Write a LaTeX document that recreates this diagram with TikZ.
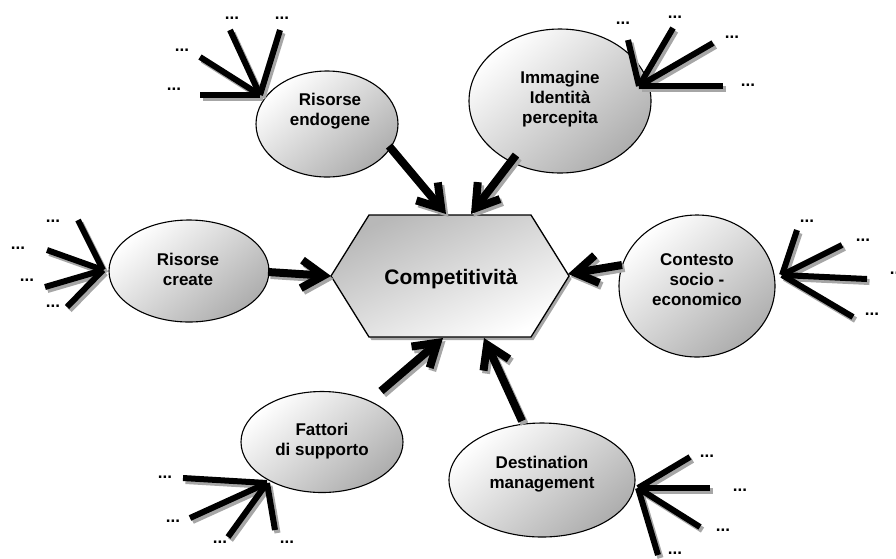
\documentclass[tikz,border=0pt]{standalone}
\usepackage{fontspec}
\setmainfont{Liberation Sans}
\usetikzlibrary{arrows.meta,shapes.geometric}

\begin{document}
\begin{tikzpicture}[x=1pt,y=-1pt,
  bubble/.style={ellipse, draw=black, line width=1.1pt, inner sep=0pt,
    top color=white, bottom color=black!32, shading angle=40},
  caption/.style={font=\fontsize{17}{20}\selectfont\bfseries, align=center, inner sep=0pt},
  more/.style={font=\fontsize{17}{20}\selectfont\bfseries, inner sep=0pt},
  feed/.style={line width=6pt},
  push/.style={line width=8pt, -{Straight Barb[length=22pt,width=28pt]}},
  shadowcopy/.style={draw=black!35, transform canvas={shift={(2.5pt,-3pt)}}},
]
\useasboundingbox (0,0) rectangle (896,558);

% central hexagon with its drop shadow
\fill[black!35] (333.5,279) -- (371.5,218) -- (533.5,218) -- (571.5,279)
  -- (533.5,340) -- (371.5,340) -- cycle;
\draw[line width=1.3pt, top color=black!28, bottom color=white, shading angle=25]
  (331,276) -- (369,215) -- (531,215) -- (569,276) -- (531,337) -- (369,337) -- cycle;
\node[inner sep=0pt, font=\fontsize{21}{25}\selectfont\bfseries] (hex) at (451,279) {Competitività};

% surrounding factors
\node[bubble, minimum width=142pt, minimum height=106pt] (e1) at (327,124) {};
\node[bubble, minimum width=182pt, minimum height=144pt] (e2) at (560,101) {};
\node[bubble, minimum width=160pt, minimum height=102pt] (e3) at (189,271) {};
\node[bubble, minimum width=156pt, minimum height=142pt] (e4) at (697,286) {};
\node[bubble, minimum width=162pt, minimum height=101pt] (e5) at (322,442) {};
\node[bubble, minimum width=186pt, minimum height=114pt] (e6) at (542,480) {};

\node[caption] (l1) at (330,111) {Risorse\\endogene};
\node[caption] (l2) at (560,99) {Immagine\\Identità\\percepita};
\node[caption] (l3) at (188,269) {Risorse\\create};
\node[caption] (l4) at (697,280) {Contesto\\socio -\\economico};
\node[caption] (l5) at (322,441) {Fattori\\di supporto};
\node[caption] (l6) at (542,474) {Destination\\management};

% arrow start points on the bubbles and tips on the hexagon
\coordinate (s1) at (389,146);  \coordinate (t1) at (446,214);
\coordinate (s2) at (516,155);  \coordinate (t2) at (471,214);
\coordinate (s3) at (268,272);  \coordinate (t3) at (331,276);
\coordinate (s4) at (622,265);  \coordinate (t4) at (568,274);
\coordinate (s5) at (381,391);  \coordinate (t5) at (443,338);
\coordinate (s6) at (522,421);  \coordinate (t6) at (484,338);

% convergence points of the secondary lines
\coordinate (c1) at (260,95);
\coordinate (c2) at (639,86);
\coordinate (c3) at (103,270);
\coordinate (c4) at (782,275);
\coordinate (c5) at (267,483);
\coordinate (c6) at (638,488);

% outer ends of the secondary lines
\coordinate (c1a) at (230,30);  \coordinate (c1b) at (280,30);
\coordinate (c1c) at (200,57);  \coordinate (c1d) at (200,95);
\coordinate (c2a) at (628,40);  \coordinate (c2b) at (673,28);
\coordinate (c2c) at (713,43);  \coordinate (c2d) at (723,86);
\coordinate (c3a) at (78,220);  \coordinate (c3b) at (47,250);
\coordinate (c3c) at (45,287);  \coordinate (c3d) at (67,307);
\coordinate (c4a) at (797,230); \coordinate (c4b) at (842,245);
\coordinate (c4c) at (867,279); \coordinate (c4d) at (853,317);
\coordinate (c5a) at (183,478); \coordinate (c5b) at (190,518);
\coordinate (c5c) at (228,537); \coordinate (c5d) at (275,530);
\coordinate (c6a) at (690,457); \coordinate (c6b) at (710,488);
\coordinate (c6c) at (700,527); \coordinate (c6d) at (658,555);

% "..." placeholders
\node[more] (m1a) at (232,18)  {...};
\node[more] (m1b) at (282,18)  {...};
\node[more] (m1c) at (182,50)  {...};
\node[more] (m1d) at (174,89)  {...};
\node[more] (m2a) at (623,23)  {...};
\node[more] (m2b) at (675,17)  {...};
\node[more] (m2c) at (732,37)  {...};
\node[more] (m2d) at (748,85)  {...};
\node[more] (m3a) at (53,221)  {...};
\node[more] (m3b) at (18,248)  {...};
\node[more] (m3c) at (27,280)  {...};
\node[more] (m3d) at (53,306)  {...};
\node[more] (m4a) at (807,221) {...};
\node[more] (m4b) at (863,240) {...};
\node[more] (m4c) at (897,273) {...};
\node[more] (m4d) at (872,314) {...};
\node[more] (m5a) at (165,477) {...};
\node[more] (m5b) at (173,521) {...};
\node[more] (m5c) at (220,542) {...};
\node[more] (m5d) at (287,542) {...};
\node[more] (m6a) at (707,456) {...};
\node[more] (m6b) at (740,490) {...};
\node[more] (m6c) at (723,530) {...};
\node[more] (m6d) at (675,553) {...};

\def\feedlist{c1a/c1,c1b/c1,c1c/c1,c1d/c1,c2a/c2,c2b/c2,c2c/c2,c2d/c2,
  c3a/c3,c3b/c3,c3c/c3,c3d/c3,c4a/c4,c4b/c4,c4c/c4,c4d/c4,
  c5a/c5,c5b/c5,c5c/c5,c5d/c5,c6a/c6,c6b/c6,c6c/c6,c6d/c6}
\def\pushlist{s1/t1,s2/t2,s3/t3,s4/t4,s5/t5,s6/t6}

% shadows first, then the black strokes on top
\foreach \a/\b in \feedlist { \draw[feed, shadowcopy] (\a) -- (\b); }
\foreach \a/\b in \pushlist { \draw[push, shadowcopy] (\a) -- (\b); }
\foreach \a/\b in \feedlist { \draw[feed] (\a) -- (\b); }
\foreach \a/\b in \pushlist { \draw[push] (\a) -- (\b); }
\end{tikzpicture}
\end{document}
